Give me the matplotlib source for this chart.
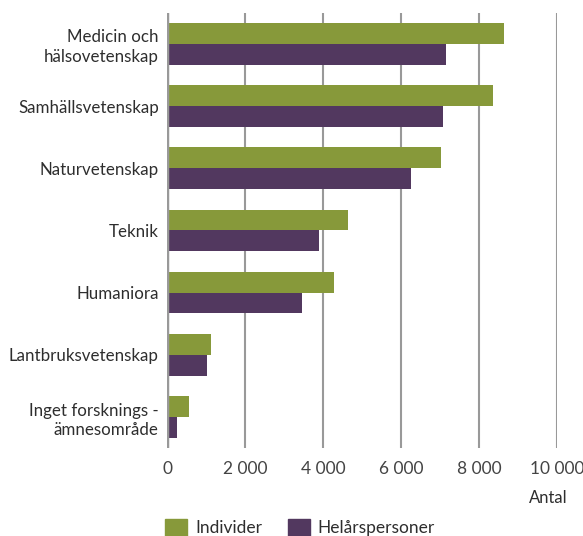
import matplotlib.pyplot as plt
import numpy as np
from matplotlib.patches import Patch

plt.rcParams['font.family'] = ['Lato', 'DejaVu Sans']

categories = ["Medicin och\nhälsovetenskap", "Samhällsvetenskap", "Naturvetenskap",
              "Teknik", "Humaniora", "Lantbruksvetenskap",
              "Inget forsknings -\nämnesområde"]
individer = [8640, 8360, 7020, 4630, 4280, 1130, 560]
helarspersoner = [7150, 7080, 6250, 3890, 3460, 1030, 260]
xticks = [0, 2000, 4000, 6000, 8000, 10000]
xtick_labels = ["0", "2 000", "4 000", "6 000", "8 000", "10 000"]

green = "#87993a"
purple = "#52385f"
textc = "#2e2e2e"

fig = plt.figure(figsize=(5.83, 5.36), dpi=100)
ax = fig.add_axes([0.2865, 0.164, 0.669, 0.812])

y = np.arange(len(categories))
h = 0.335
ax.barh(y - h / 2, individer, height=h, color=green, zorder=3)
ax.barh(y + h / 2, helarspersoner, height=h, color=purple, zorder=3)

ax.set_ylim(len(categories) - 0.5, -0.5)
ax.set_xlim(0, 10000)
ax.set_yticks(y)
ax.set_yticklabels(categories, fontsize=12.2, color=textc,
                   linespacing=1.3, ha='right')
ax.set_xticks(xticks)
ax.set_xticklabels(xtick_labels, fontsize=12.5, color="#444444")
ax.tick_params(axis='y', length=0, pad=6)
ax.tick_params(axis='x', length=0, pad=9)

ax.grid(axis='x', color="#999999", linewidth=1.5, zorder=0)
for s in ax.spines.values():
    s.set_visible(False)
ax.axvline(0, color="#999999", linewidth=2.5, zorder=4)

fig.text(0.94, 0.062, "Antal", fontsize=12, color=textc, ha='center')

handles = [Patch(color=green, label="Individer"), Patch(color=purple, label="Helårspersoner")]
leg = fig.legend(handles=handles, loc='lower left', bbox_to_anchor=(0.257, -0.03),
                 ncol=2, frameon=False, fontsize=12.5, handlelength=1.25, handleheight=1.2,
                 columnspacing=1.5, handletextpad=0.45)
for t in leg.get_texts():
    t.set_color(textc)

fig.savefig("out.png", dpi=100)
